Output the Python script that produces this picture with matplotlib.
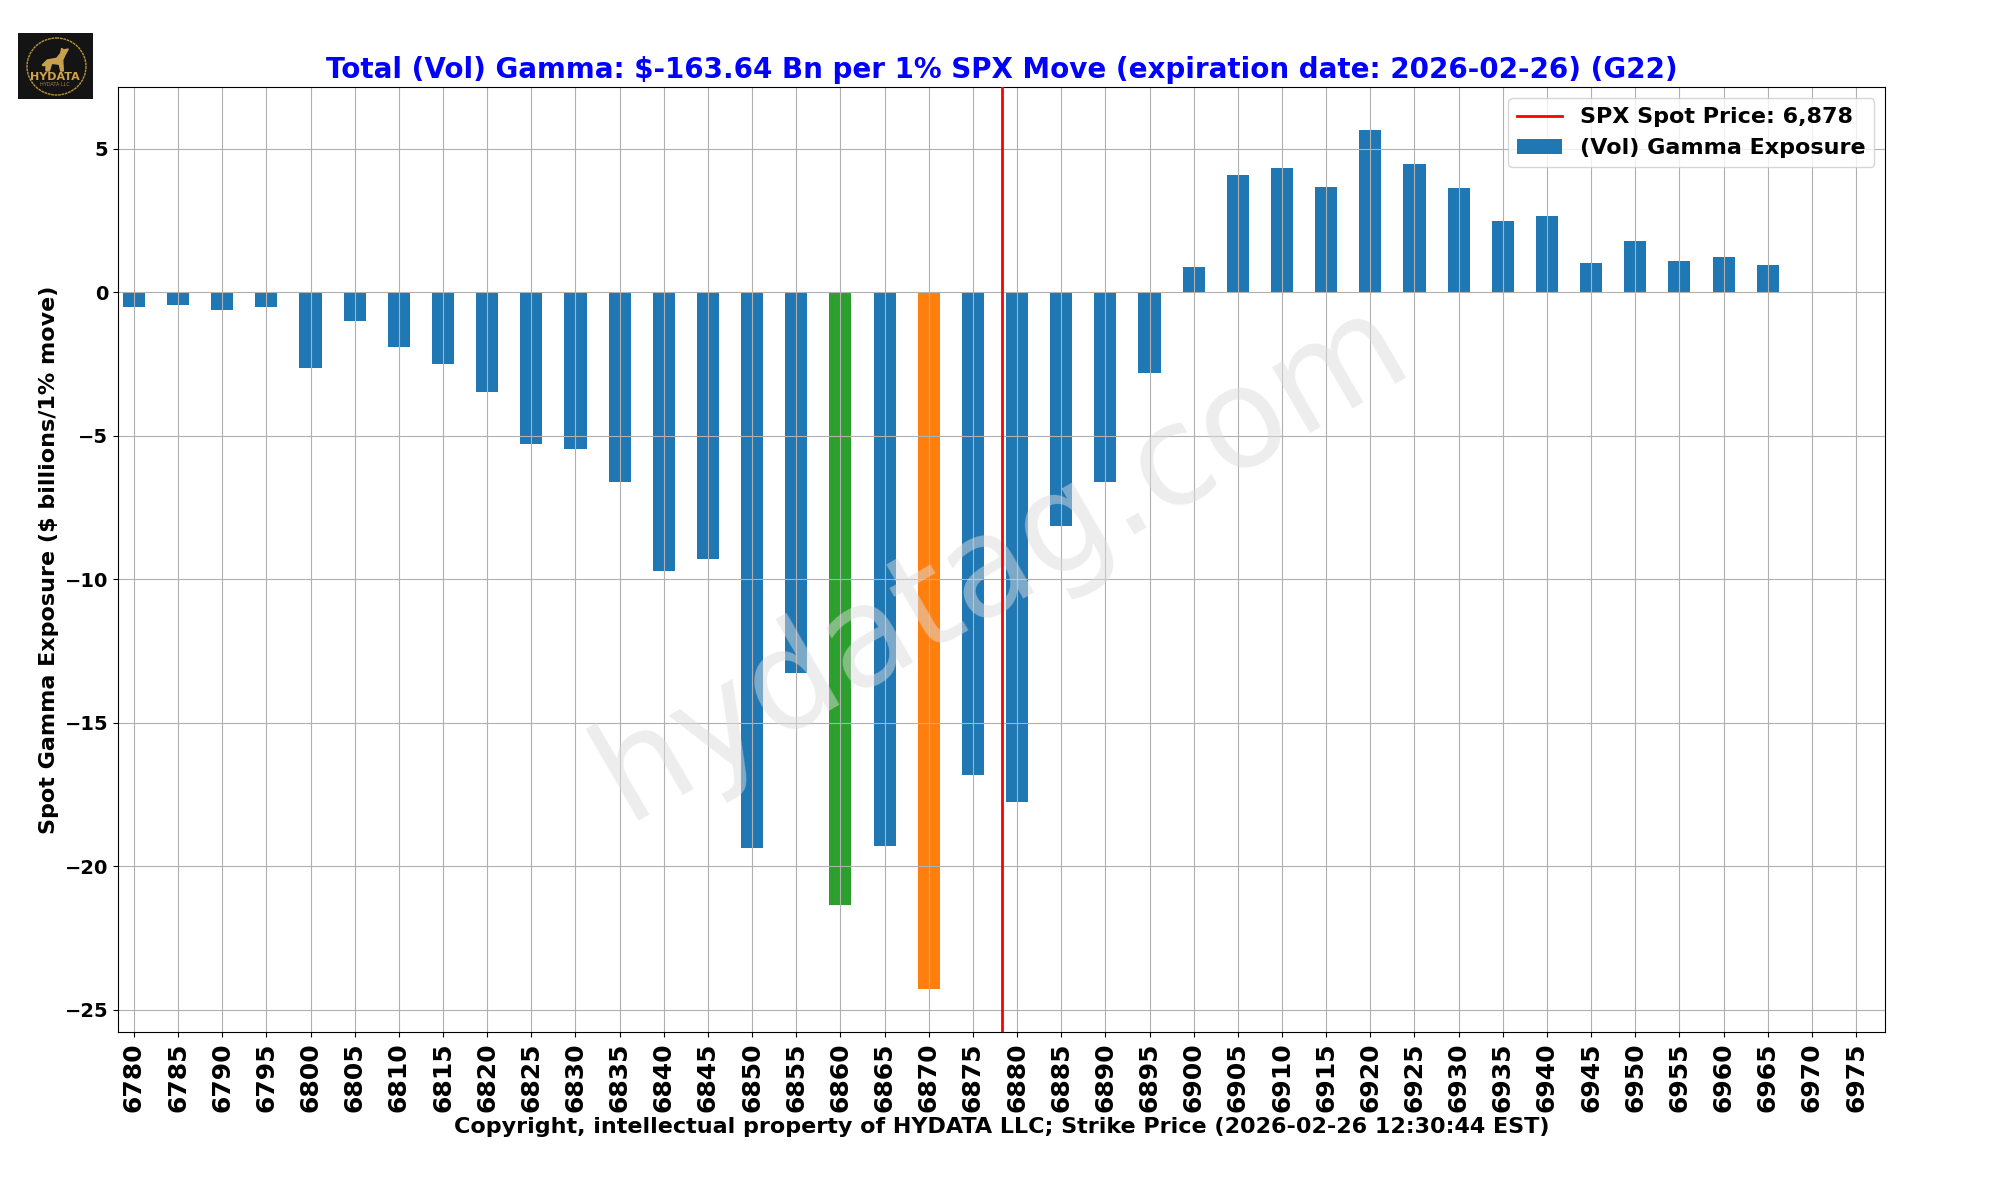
import numpy as np
import matplotlib
matplotlib.use("Agg")
from matplotlib import pyplot as plt
from matplotlib.patches import Ellipse, Polygon

strikes = [6780, 6785, 6790, 6795, 6800, 6805, 6810, 6815, 6820, 6825,
           6830, 6835, 6840, 6845, 6850, 6855, 6860, 6865, 6870, 6875,
           6880, 6885, 6890, 6895, 6900, 6905, 6910, 6915, 6920, 6925,
           6930, 6935, 6940, 6945, 6950, 6955, 6960, 6965, 6970, 6975]
gamma = [-0.50, -0.43, -0.62, -0.50, -2.63, -0.99, -1.90, -2.49, -3.47, -5.28,
         -5.45, -6.60, -9.71, -9.29, -19.35, -13.27, -21.34, -19.28, -24.28, -16.83,
         -17.75, -8.14, -6.60, -2.81, 0.88, 4.09, 4.34, 3.67, 5.66, 4.48,
         3.64, 2.49, 2.66, 1.02, 1.79, 1.09, 1.23, 0.95, 0, 0]
spot = 6878.3
green_strike = 6860
orange_strike = 6870

W, H = 2000, 1200
fig = plt.figure(figsize=(W / 100, H / 100), dpi=100)
ax = fig.add_axes([118 / W, 1 - 1032.3 / H, (1885.2 - 118) / W, (1032.3 - 87.3) / H])

pos = np.arange(len(strikes))
colors = ["tab:green" if s == green_strike else "tab:orange" if s == orange_strike else "tab:blue"
          for s in strikes]
ax.bar(pos, gamma, width=0.5, color=colors, label="(Vol) Gamma Exposure")
ax.axvline((spot - strikes[0]) / 5, color="red", lw=2, zorder=4, label=f"SPX Spot Price: {spot:,.0f}")
ax.grid(True)
ax.set_xlim(-0.36, 39.66)
ax.set_ylim(-25.78, 7.14)
ax.set_xticks(pos)
ax.set_xticklabels(strikes, rotation=90, fontsize=18, fontweight="bold")
ax.tick_params(axis="y", labelsize=14)
for t in ax.get_yticklabels():
    t.set_fontweight("bold")

ax.set_title(r"Total (Vol) Gamma: \$-163.64 Bn per 1% SPX Move (expiration date: 2026-02-26) (G22)",
             color="blue", fontsize=20, fontweight="bold", pad=7)
ax.set_xlabel("Copyright, intellectual property of HYDATA LLC; Strike Price (2026-02-26 12:30:44 EST)",
              fontsize=16, fontweight="bold", labelpad=4)
ax.set_ylabel(r"Spot Gamma Exposure (\$ billions/1% move)", fontsize=16, fontweight="bold")
ax.legend(loc="upper right", prop={"size": 16, "weight": "bold"})

ax.text(0.5, 0.5, "hydatag.com", transform=ax.transAxes, fontsize=100, color="#dcdcdc", alpha=0.5,
        rotation=30, ha="center", va="center", zorder=3)

# logo, drawn by hand
logo = fig.add_axes([18 / W, 1 - 99 / H, 75 / W, 66 / H])
logo.set_xlim(0, 75)
logo.set_ylim(66, 0)
logo.axis("off")
logo.add_patch(plt.Rectangle((0, 0), 75, 66, color="#141414"))
logo.add_patch(Ellipse((38.5, 33.5), 59, 57, fill=False, ec="#b8903c", lw=1, ls=(0, (2, 0.5))))
logo.add_patch(Polygon([(24.3, 32), (29.3, 27), (38.7, 25.3), (42.7, 20.3), (43.7, 15.3), (45.3, 17), (50.3, 16),
                        (47, 22), (44.7, 27), (45.3, 38), (42.7, 38), (41.3, 31.3), (33.7, 30.3), (31.3, 38),
                        (28, 38), (28, 32), (25.3, 32.7)], color="#c9a04e"))
logo.text(37, 44, "HYDATA", color="#d0a24a", fontsize=8, fontweight="bold", ha="center", va="center")
logo.text(37, 51, "HYDATA LLC", color="#a88440", fontsize=3.5, ha="center", va="center")

fig.savefig("out.png", dpi=100)
